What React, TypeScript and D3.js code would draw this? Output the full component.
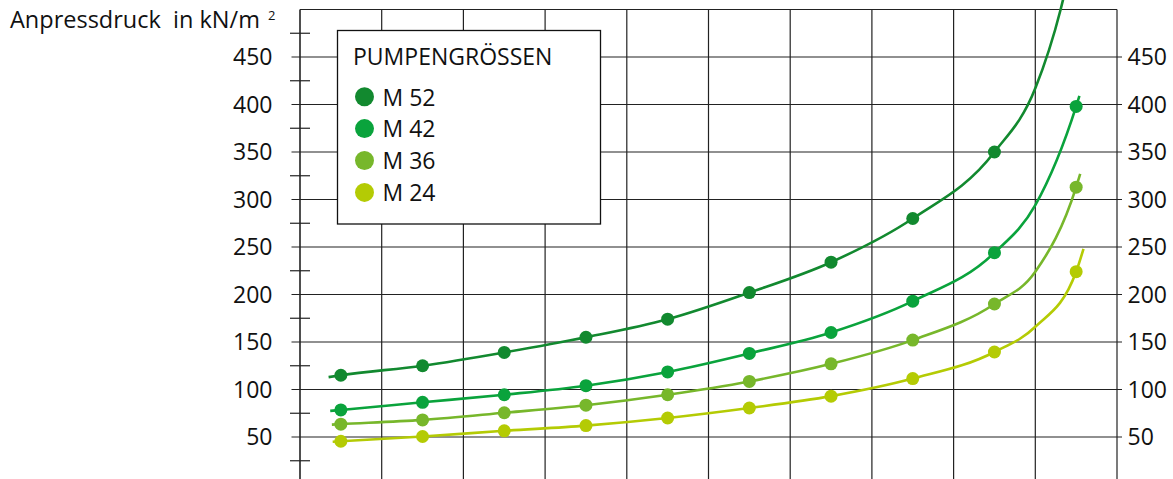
import React from "react";
import * as d3 from "d3";

// pump sizes and colours
const seriesNames = ["M 52", "M 42", "M 36", "M 24"];
const seriesColors = ["#12892f", "#0aa33c", "#77b72b", "#b4cb04"];

// measured points, one per grid cell (cell centres 0.5 .. 9.5)
const m52 = [115, 125, 139, 155, 174, 202, 234, 280, 350];
const m42 = [78.5, 86.5, 94.5, 104, 118.5, 138, 160, 193, 244, 398];
const m36 = [63.5, 68, 75.5, 83.5, 94.5, 108.5, 127, 152, 190, 313];
const m24 = [45.5, 50.5, 56.5, 62, 70, 80.5, 93, 111.5, 139.5, 224];

// extra curve points (ends and the steep last cell): [x, value]
const m52Extra: [number, number][] = [[0.35, 113], [9.0, 417], [9.31, 500], [9.42, 540]];
const m42Extra: [number, number][] = [[0.37, 77.5], [9.0, 294], [9.54, 409]];
const m36Extra: [number, number][] = [[0.39, 63], [9.0, 224], [9.55, 327]];
const m24Extra: [number, number][] = [[0.4, 45], [9.0, 166], [9.59, 248]];

const seriesValues = [m52, m42, m36, m24];
const seriesExtra = [m52Extra, m42Extra, m36Extra, m24Extra];

const yLabels = [50, 100, 150, 200, 250, 300, 350, 400, 450];
const yGrid = [50, 100, 150, 200, 250, 300, 350, 400, 450];
const yMinor = [25, 75, 125, 175, 225, 275, 325, 375, 425, 475];
const xCells = 10;

const W = 1173;
const H = 479;
const FONT = "'Open Sans', sans-serif";

export default function App() {
  const x = d3.scaleLinear().domain([0, xCells]).range([300, 1117]);
  const y = d3.scaleLinear().domain([0, 500]).range([484.5, 9.5]);

  const line = d3
    .line<[number, number]>()
    .x((d) => x(d[0]))
    .y((d) => y(d[1]))
    .curve(d3.curveMonotoneX);

  const xTicks = d3.range(0, xCells + 1);

  return (
    <svg width={W} height={H} style={{ display: "block", position: "absolute", left: 0, top: 0 }}>
      <rect width={W} height={H} fill="#fff" />

      {/* vertical grid */}
      {xTicks.map((t) => (
        <line key={"v" + t} x1={x(t)} x2={x(t)} y1={y(500)} y2={y(0)} stroke="#222" strokeWidth={t === 0 ? 1.6 : 1.2} />
      ))}
      {/* top border */}
      <line x1={x(0)} x2={x(xCells)} y1={y(500)} y2={y(500)} stroke="#222" strokeWidth={1.2} />

      {/* horizontal grid, extending into ticks on both sides */}
      {yGrid.map((v) => (
        <line key={"h" + v} x1={291.5} x2={1122} y1={y(v)} y2={y(v)} stroke="#222" strokeWidth={1.2} />
      ))}
      {/* minor ticks on the left axis */}
      {yMinor.map((v) => (
        <line key={"m" + v} x1={290} x2={310} y1={y(v)} y2={y(v)} stroke="#222" strokeWidth={1.2} />
      ))}

      {/* axis labels */}
      {yLabels.map((v) => (
        <text key={"l" + v} x={272.5} y={y(v)} dy="0.36em" textAnchor="end" fontFamily={FONT} fontSize={23} fill="#111">
          {v}
        </text>
      ))}
      {yLabels.map((v) => (
        <text key={"r" + v} x={1127.5} y={y(v)} dy="0.36em" textAnchor="start" fontFamily={FONT} fontSize={23} fill="#111">
          {v}
        </text>
      ))}

      <text x={10} y={28} fontFamily={FONT} fontSize={23.5} fill="#111">
        Anpressdruck{"\u00a0"} in kN/m
      </text>
      <text x={268} y={20} fontFamily={FONT} fontSize={13} fill="#111">
        2
      </text>

      {/* curves and points */}
      {seriesValues.map((vals, i) => {
        const pts: [number, number][] = vals.map((v, j) => [j + 0.5, v]);
        const path = [...pts, ...seriesExtra[i]].sort((a, b) => a[0] - b[0]);
        return (
          <g key={seriesNames[i]}>
            <path d={line(path) || ""} fill="none" stroke={seriesColors[i]} strokeWidth={2.6} />
            {pts.map((p, j) => (
              <circle key={j} cx={x(p[0])} cy={y(p[1])} r={6.5} fill={seriesColors[i]} />
            ))}
          </g>
        );
      })}

      {/* legend */}
      <rect x={337.5} y={30.5} width={263} height={193.5} fill="#fff" stroke="#111" strokeWidth={1.3} />
      <text x={353} y={65} fontFamily={FONT} fontSize={23} fill="#111">
        PUMPENGRÖSSEN
      </text>
      {seriesNames.map((n, i) => (
        <g key={"lg" + n}>
          <circle cx={364.5} cy={96.7 + i * 31.9} r={9.5} fill={seriesColors[i]} />
          <text x={382.5} y={105.5 + i * 31.9} fontFamily={FONT} fontSize={23} fill="#111">
            {n}
          </text>
        </g>
      ))}
    </svg>
  );
}
